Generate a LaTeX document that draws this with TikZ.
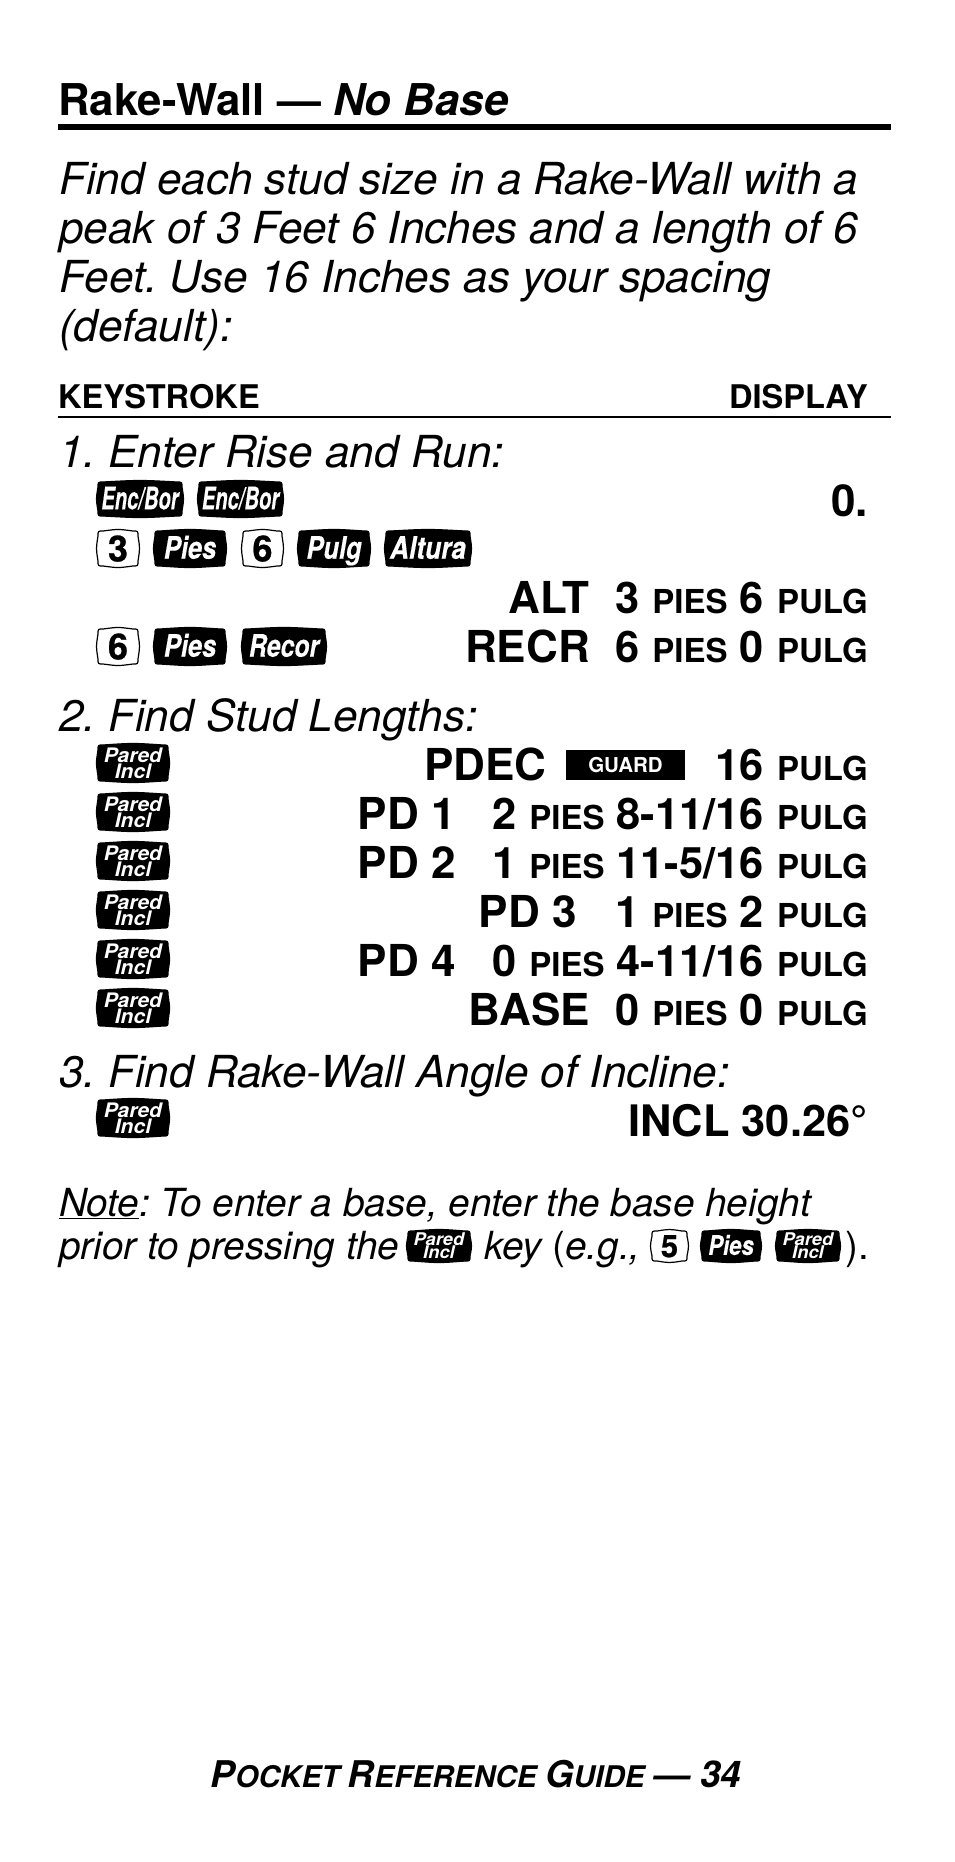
\documentclass[tikz,border=0pt]{standalone}
\usepackage{fontspec}
\setmainfont{TeX Gyre Heros}
\newfontface\keyfont{TeX Gyre Heros Bold Italic}[FakeBold=0.3]
\newfontface\numfont{TeX Gyre Heros Bold}[FakeBold=0.7]
\begin{document}
\frenchspacing
\begin{tikzpicture}[x=1pt,y=-1pt,
  para/.style={anchor=base west,inner sep=0pt,font=\fontsize{44.1}{44.1}\selectfont\itshape},
  head/.style={anchor=base west,inner sep=0pt,font=\fontsize{32.6}{32.6}\selectfont\bfseries},
  disp/.style={anchor=base east,inner sep=0pt,font=\fontsize{44}{44}\selectfont\bfseries},
  dispnum/.style={anchor=base east,inner sep=0pt,font=\fontsize{43.4}{43.4}\selectfont\bfseries},
  notetext/.style={anchor=base west,inner sep=0pt,font=\fontsize{38.7}{38.7}\selectfont\itshape},
  keylabel/.style={anchor=base,inner sep=0pt,text=white,font=\keyfont},
  pared/.style={anchor=base,inner sep=0pt,text=white,font=\bfseries\itshape},
  numlabel/.style={anchor=base,inner sep=0pt,text=black,font=\numfont},
  keyshape/.style={line width=1.2pt,draw=black}]
\newcommand{\sm}[1]{\hspace{1.2pt}{\fontsize{33}{33}\selectfont #1}}
\newcommand{\keypath}[5]{% x0 y0 x1 y1 style
  \draw[keyshape,#5] (#1+6,#2+1) .. controls ({(#1+#3)/2},#2-1) .. (#3-6,#2+1)
    .. controls (#3-1,#2+1) .. (#3-1,#2+6)
    .. controls (#3+1,{(#2+#4)/2}) .. (#3-1,#4-6)
    .. controls (#3-1,#4-1) .. (#3-6,#4-1)
    .. controls ({(#1+#3)/2},#4+1) .. (#1+6,#4-1)
    .. controls (#1+1,#4-1) .. (#1+1,#4-6)
    .. controls (#1-1,{(#2+#4)/2}) .. (#1+1,#2+6)
    .. controls (#1+1,#2+1) .. cycle;}
% name x0 y0 x1 y1 size xscale text
\newcommand{\blackkey}[8]{\keypath{#2}{#3}{#4}{#5}{fill=black}
  \node[keylabel] (#1) at ({(#2+#4)/2},{(#3+#5)/2+0.33*#6}) {\fontsize{#6}{#6}\selectfont\scalebox{#7}[1]{#8}};}
\newcommand{\numkey}[7]{\keypath{#2}{#3}{#4}{#5}{fill=white}
  \node[numlabel] (#1) at ({(#2+#4)/2},{(#3+#5)/2+0.36*#6}) {\fontsize{#6}{#6}\selectfont #7};}
% name x0 y0 x1 y1 size base1 base2
\newcommand{\paredkey}[8]{\keypath{#2}{#3}{#4}{#5}{fill=black}
  \node[pared] (#1a) at ({(#2+#4)/2},#3+#7) {\fontsize{#6}{#6}\selectfont\scalebox{1.05}[1]{Pared}};
  \node[pared] (#1b) at ({(#2+#4)/2},#3+#8) {\fontsize{#6}{#6}\selectfont\scalebox{1.05}[1]{Incl}};}
\useasboundingbox (0,0) rectangle (954,1862);
\fill[white] (0,0) rectangle (954,1862);
% title
\node[anchor=base west,inner sep=0pt,font=\fontsize{43.8}{43.8}\selectfont\bfseries] (title) at (58,116) {Rake-Wall — \textit{No Base}};
\coordinate (r1a) at (58,127.5); \coordinate (r1b) at (891,127.5);
\draw[line width=6pt] (r1a) -- (r1b);
\node[para] (p1) at (59,195) {Find each stud size in a Rake-Wall with a};
\node[para] (p2) at (59,243.6) {peak of 3 Feet 6 Inches and a length of 6};
\node[para] (p3) at (59,292) {Feet. Use 16 Inches as your spacing};
\node[para] (p4) at (59,341) {(default):};
\node[head] (ks) at (58,408) {KEYSTROKE};
\node[head,anchor=base east] (dp) at (868,408) {DISPLAY};
\coordinate (r2a) at (58,416.5); \coordinate (r2b) at (891,416.5);
\draw[line width=2pt] (r2a) -- (r2b);
\node[para] (s1) at (59,467.5) {1. Enter Rise and Run:};
\blackkey{k1}{97}{481}{183}{517}{31}{0.65}{Enc/Bor}
\blackkey{k2}{198}{481}{283}{517}{31}{0.65}{Enc/Bor}
\node[disp] (d0) at (868,516) {0.};
\numkey{k3}{97}{530}{139}{567}{36}{3}
\blackkey{k4}{154}{530}{226}{567}{31}{0.82}{Pies}
\numkey{k5}{242}{530}{283}{567}{36}{6}
\blackkey{k6}{298}{530}{370}{567}{31}{0.82}{Pulg}
\blackkey{k7}{385}{530}{471}{567}{31}{0.85}{Altura}
\node[disp] (d1a) at (590,613) {ALT};
\node[dispnum] (d1b) at (868,613) {3 \sm{PIES} 6 \sm{PULG}};
\numkey{k8}{97}{628}{139}{665}{36}{6}
\blackkey{k9}{154}{628}{226}{665}{31}{0.82}{Pies}
\blackkey{k10}{242}{628}{326}{665}{31}{0.8}{Recor}
\node[disp] (d2a) at (590,662) {RECR};
\node[dispnum] (d2b) at (868,662) {6 \sm{PIES} 0 \sm{PULG}};
\node[para] (s2) at (59,731.5) {2. Find Stud Lengths:};
\paredkey{k11}{97}{744}{169}{782}{20}{18.7}{34}
\node[disp] (d3a) at (546.5,780) {PDEC};
\node[fill=black,text=white,inner sep=0pt,minimum width=119pt,minimum height=30pt,font=\fontsize{20.5}{20.5}\selectfont\bfseries] (guard) at (625.5,765) {GUARD};
\node[dispnum] (d3b) at (868,780) {16 \sm{PULG}};
\paredkey{k12}{97}{793}{169}{831}{20}{18.7}{34}
\node[disp] (d4a) at (456,829) {PD 1};
\node[dispnum] (d4b) at (868,829) {2 \sm{PIES} 8-11/16 \sm{PULG}};
\paredkey{k13}{97}{842}{169}{880}{20}{18.7}{34}
\node[disp] (d5a) at (456,878) {PD 2};
\node[dispnum] (d5b) at (868,878) {1 \sm{PIES} 11-5/16 \sm{PULG}};
\paredkey{k14}{97}{891}{169}{929}{20}{18.7}{34}
\node[disp] (d6a) at (577,927) {PD 3};
\node[dispnum] (d6b) at (868,927) {1 \sm{PIES} 2 \sm{PULG}};
\paredkey{k15}{97}{940}{169}{978}{20}{18.7}{34}
\node[disp] (d7a) at (456,976) {PD 4};
\node[dispnum] (d7b) at (868,976) {0 \sm{PIES} 4-11/16 \sm{PULG}};
\paredkey{k16}{97}{989}{169}{1027}{20}{18.7}{34}
\node[disp] (d8a) at (590,1025) {BASE};
\node[dispnum] (d8b) at (868,1025) {0 \sm{PIES} 0 \sm{PULG}};
\node[para] (s3) at (59,1087.5) {3. Find Rake-Wall Angle of Incline:};
\paredkey{k17}{97}{1099}{169}{1137}{20}{18.7}{34}
\node[dispnum] (d9) at (868,1136.5) {INCL 30.26°};
\node[notetext] (n1) at (59,1216) {\underline{Note}: To enter a base, enter the base height};
\node[notetext] (n2) at (59,1259) {prior to pressing the};
\paredkey{k18}{407}{1230}{471}{1262}{17.5}{15}{28.5}
\node[notetext] (n3) at (484,1259) {key {\upshape(}\textit{e.g.,}};
\numkey{k19}{651}{1230}{688}{1262}{31}{5}
\blackkey{k20}{701}{1230}{761}{1262}{27}{0.82}{Pies}
\paredkey{k21}{776}{1230}{840}{1262}{17.5}{15}{28.5}
\node[notetext,font=\fontsize{38.7}{38.7}\selectfont\upshape] (n4) at (845,1259) {).};
\node[anchor=base,inner sep=0pt,font=\fontsize{36.8}{36.8}\selectfont\bfseries\itshape] (foot) at (476,1787) {P\fontsize{29.8}{29.8}\selectfont OCKET \fontsize{36.8}{36.8}\selectfont R\fontsize{29.8}{29.8}\selectfont EFERENCE \fontsize{36.8}{36.8}\selectfont G\fontsize{29.8}{29.8}\selectfont UIDE \fontsize{36.8}{36.8}\selectfont — 34};
\end{tikzpicture}
\end{document}
